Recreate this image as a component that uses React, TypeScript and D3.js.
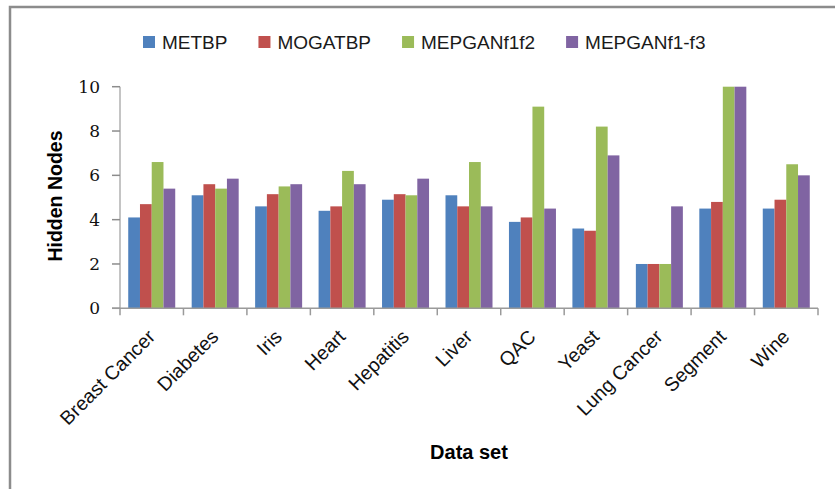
import React from "react";
import * as d3 from "d3";

// Hidden nodes found by each training method, per data set
const categories = [
  "Breast Cancer",
  "Diabetes",
  "Iris",
  "Heart",
  "Hepatitis",
  "Liver",
  "QAC",
  "Yeast",
  "Lung Cancer",
  "Segment",
  "Wine",
];
const seriesNames = ["METBP", "MOGATBP", "MEPGANf1f2", "MEPGANf1-f3"];
const metbp = [4.1, 5.1, 4.6, 4.4, 4.9, 5.1, 3.9, 3.6, 2, 4.5, 4.5];
const mogatbp = [4.7, 5.6, 5.15, 4.6, 5.15, 4.6, 4.1, 3.5, 2, 4.8, 4.9];
const mepganF1F2 = [6.6, 5.4, 5.5, 6.2, 5.1, 6.6, 9.1, 8.2, 2, 10, 6.5];
const mepganF1F3 = [5.4, 5.85, 5.6, 5.6, 5.85, 4.6, 4.5, 6.9, 4.6, 10, 6.0];
const seriesValues = [metbp, mogatbp, mepganF1F2, mepganF1F3];
const seriesColors = ["#4f81bd", "#c0504d", "#9bbb59", "#8064a2"];
const yTicks = [0, 2, 4, 6, 8, 10];

const W = 835;
const H = 489;
const plot = { left: 120, right: 818, top: 86.7, bottom: 308.3 };

const sansFont = "'Liberation Sans', Arial, sans-serif";
const serifFont = "'DejaVu Serif', serif";

function textWidth(text: string, font: string): number {
  if (typeof document === "undefined") return text.length * 10;
  const c = document.createElement("canvas").getContext("2d");
  if (!c) return text.length * 10;
  c.font = font;
  return c.measureText(text).width;
}

export default function App() {
  const x = d3
    .scaleBand<string>()
    .domain(categories)
    .range([plot.left, plot.right])
    .paddingInner(0)
    .paddingOuter(0);
  const xInner = d3
    .scaleBand<string>()
    .domain(seriesNames)
    .range([0, x.bandwidth()])
    .paddingInner(0)
    .paddingOuter(0.7);
  const y = d3.scaleLinear().domain([0, 10]).range([plot.bottom, plot.top]);

  // legend layout: swatch + label, items spaced by a fixed gap
  const legendFont = `19px ${sansFont}`;
  const sw = 12;
  const swGap = 7;
  const itemGap = 31;
  const widths = seriesNames.map((s) => textWidth(s, legendFont));
  let cursor = 143;
  const legendItems = seriesNames.map((s, i) => {
    const item = { name: s, x: cursor, color: seriesColors[i] };
    cursor += sw + swGap + widths[i] + itemGap;
    return item;
  });

  const boundaries = d3.range(categories.length + 1).map(
    (i) => plot.left + i * x.step()
  );

  return (
    <svg
      width={W}
      height={H}
      style={{ position: "absolute", left: 0, top: 0, background: "#fff" }}
    >
      <rect x={0} y={0} width={W} height={H} fill="#fff" />
      {/* chart frame */}
      <path d={`M10,${H} V7 H${W}`} fill="none" stroke="#8c8c8c" strokeWidth={2.5} />

      {/* legend */}
      {legendItems.map((it) => (
        <g key={it.name}>
          <rect x={it.x} y={36} width={sw} height={sw} fill={it.color} />
          <text
            x={it.x + sw + swGap}
            y={48.5}
            fontFamily={sansFont}
            fontSize={19}
            fill="#1a1a1a"
          >
            {it.name}
          </text>
        </g>
      ))}

      {/* bars */}
      {categories.map((cat, ci) => (
        <g key={cat} transform={`translate(${x(cat)},0)`}>
          {seriesNames.map((s, si) => {
            const v = seriesValues[si][ci];
            return (
              <rect
                key={s}
                x={xInner(s)}
                y={y(v)}
                width={xInner.bandwidth()}
                height={plot.bottom - y(v)}
                fill={seriesColors[si]}
              />
            );
          })}
        </g>
      ))}

      {/* y axis */}
      <line
        x1={plot.left}
        x2={plot.left}
        y1={plot.top}
        y2={plot.bottom}
        stroke="#c4c4c4"
        strokeWidth={2}
      />
      {yTicks.map((t) => (
        <g key={t}>
          <line
            x1={plot.left - 8}
            x2={plot.left}
            y1={y(t)}
            y2={y(t)}
            stroke="#8c8c8c"
            strokeWidth={1.5}
          />
          <text
            x={100}
            y={y(t)}
            dy="0.36em"
            textAnchor="end"
            fontFamily={serifFont}
            fontSize={17}
            fill="#111"
          >
            {t}
          </text>
        </g>
      ))}

      {/* x axis */}
      <line
        x1={plot.left - 8}
        x2={plot.right}
        y1={plot.bottom}
        y2={plot.bottom}
        stroke="#9a9a9a"
        strokeWidth={1.5}
      />
      {boundaries.map((bx, i) => (
        <line
          key={i}
          x1={bx}
          x2={bx}
          y1={plot.bottom}
          y2={plot.bottom + 7}
          stroke="#9a9a9a"
          strokeWidth={1.5}
        />
      ))}
      {categories.map((cat) => {
        const cx = (x(cat) ?? 0) + x.bandwidth() / 2 + 4.5;
        return (
          <text
            key={cat}
            transform={`translate(${cx},338) rotate(-45)`}
            textAnchor="end"
            fontFamily={sansFont}
            fontSize={19.5}
            fill="#111"
          >
            {cat}
          </text>
        );
      })}

      {/* axis titles */}
      <text
        transform={`translate(62,196) rotate(-90)`}
        textAnchor="middle"
        fontFamily={sansFont}
        fontWeight="bold"
        fontSize={19.5}
        fill="#000"
      >
        Hidden Nodes
      </text>
      <text
        x={(plot.left + plot.right) / 2}
        y={459}
        textAnchor="middle"
        fontFamily={sansFont}
        fontWeight="bold"
        fontSize={20}
        fill="#000"
      >
        Data set
      </text>
    </svg>
  );
}
